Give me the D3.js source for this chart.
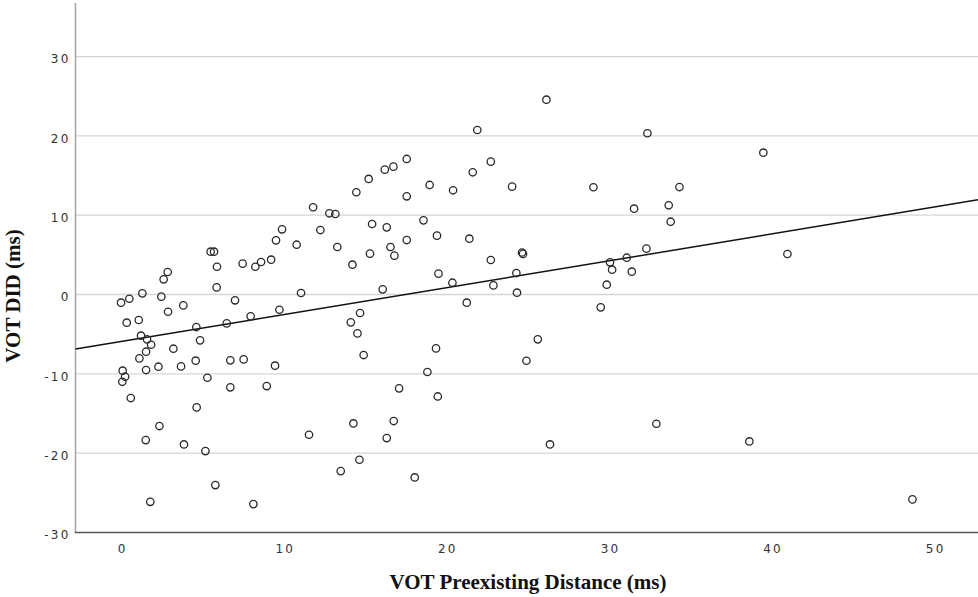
<!DOCTYPE html>
<html>
<head>
<meta charset="utf-8">
<script src="https://cdn.jsdelivr.net/npm/d3@7/dist/d3.min.js"></script>
<style>
  html, body { margin: 0; padding: 0; background: #fff; }
  svg { display: block; }
</style>
</head>
<body>
<svg id="chart" width="978" height="597"></svg>
<script>
// ---- data ----
const xValues = [
  0.00, 0.51, 1.31, 2.48, 2.62, 2.87, 2.89, 3.83, 0.35, 1.09,
  1.23, 1.60, 1.85, 1.54, 1.13, 0.10, 0.25, 0.08, 1.54, 2.30,
  3.22, 3.69, 4.63, 4.86, 4.59, 5.31, 5.51, 5.72, 5.90, 5.88,
  7.01, 6.50, 6.72, 7.54, 6.72, 7.48, 8.26, 8.61, 9.23, 7.97,
  9.74, 9.47, 8.96, 9.53, 9.90, 10.80, 11.07, 11.81, 12.26, 0.60,
  4.65, 2.36, 1.52, 3.87, 5.19, 5.80, 1.80, 8.14, 11.56,
  14.29, 16.77, 16.34, 14.66, 13.51, 18.06, 26.38,
  32.92, 38.64, 48.67,
  26.16, 21.91, 22.74, 21.63, 17.57, 16.75, 16.22, 15.23, 14.47, 17.57,
  18.98, 20.42, 24.05, 29.05, 12.81, 13.18, 15.44, 16.34, 18.60, 13.30,
  15.31, 16.57, 16.81, 17.57, 19.43, 21.42, 14.23, 16.09, 19.52, 20.38,
  22.74, 22.90, 24.31, 24.66, 24.72, 24.35, 21.26, 14.70, 14.13, 14.54,
  14.92, 19.37, 18.84, 17.10, 19.48, 25.63, 24.93, 30.07, 30.20, 29.87,
  29.50, 31.10,
  32.37, 39.50, 34.34, 31.55, 33.68, 33.80, 32.31, 40.98, 31.41
];
const yValues = [
  -1.03, -0.53, 0.15, -0.27, 1.91, 2.84, -2.17, -1.37, -3.55, -3.21,
  -5.19, -5.65, -6.33, -7.21, -8.05, -9.60, -10.36, -11.00, -9.52, -9.10,
  -6.83, -9.06, -4.10, -5.78, -8.34, -10.49, 5.40, 5.40, 3.50, 0.90,
  -0.73, -3.64, -8.30, -8.18, -11.70, 3.89, 3.50, 4.10, 4.39, -2.75,
  -1.92, -8.97, -11.54, 6.83, 8.22, 6.28, 0.19, 11.00, 8.13, -13.05,
  -14.23, -16.58, -18.35, -18.90, -19.74, -24.02, -26.13, -26.42, -17.68,
  -16.25, -15.95, -18.10, -20.83, -22.26, -23.06, -18.90,
  -16.29, -18.52, -25.83,
  24.56, 20.74, 16.75, 15.41, 17.09, 16.12, 15.74, 14.57, 12.89, 12.38,
  13.81, 13.14, 13.60, 13.52, 10.24, 10.15, 8.89, 8.47, 9.35, 5.99,
  5.15, 5.99, 4.90, 6.87, 7.42, 7.04, 3.76, 0.65, 2.63, 1.49,
  4.35, 1.15, 2.71, 5.30, 5.12, 0.23, -1.03, -2.33, -3.51, -4.90,
  -7.63, -6.79, -9.77, -11.83, -12.85, -5.65, -8.35, 4.06, 3.13, 1.24,
  -1.62, 4.64,
  20.33, 17.88, 13.55, 10.82, 11.25, 9.18, 5.78, 5.11, 2.88
];
const xTicks = [0, 10, 20, 30, 40, 50];
const yTicks = [30, 20, 10, 0, -10, -20, -30];
const fitIntercept = -5.93;   // fit line
const fitSlope = 0.339;
const xTitle = "VOT Preexisting Distance (ms)";
const yTitle = "VOT DID (ms)";

// ---- layout ----
const svg = d3.select("#chart");
const plotLeft = 75.5, plotRight = 978, plotTop = 3, plotBottom = 532.5;
const x = d3.scaleLinear().domain([-2.8, 52.7]).range([plotLeft, plotRight]);
const y = d3.scaleLinear().domain([-30, 36.75]).range([plotBottom, plotTop]);

// gridlines
svg.append("g").selectAll("line")
  .data(yTicks.filter(d => d !== -30))
  .join("line")
  .attr("x1", plotLeft).attr("x2", plotRight)
  .attr("y1", d => y(d)).attr("y2", d => y(d))
  .attr("stroke", "#d6d6d6").attr("stroke-width", 1.3);

// y axis
const yAxis = svg.append("g")
  .attr("transform", `translate(${plotLeft},0)`)
  .call(d3.axisLeft(y).tickValues(yTicks).tickSize(0).tickPadding(5).tickFormat(d3.format("d")));
yAxis.select(".domain").remove();
yAxis.selectAll("text")
  .attr("font-family", "DejaVu Sans").attr("font-size", 12)
  .attr("letter-spacing", "2.2px").attr("fill", "#333").attr("dy", "0.52em")
  .text(d => d < 0 ? "-" + Math.abs(d) : d);
svg.append("line")
  .attr("x1", plotLeft).attr("x2", plotLeft).attr("y1", plotTop).attr("y2", plotBottom)
  .attr("stroke", "#a8a8a8").attr("stroke-width", 1.6);

// x axis
const xAxis = svg.append("g")
  .attr("transform", `translate(0,${plotBottom})`)
  .call(d3.axisBottom(x).tickValues(xTicks).tickSize(0).tickPadding(12).tickFormat(d3.format("d")));
xAxis.select(".domain").remove();
xAxis.selectAll("text")
  .attr("font-family", "DejaVu Sans").attr("font-size", 12)
  .attr("letter-spacing", "2.2px").attr("fill", "#333").attr("dx", 1.1);
svg.append("line")
  .attr("x1", plotLeft - 0.8).attr("x2", plotRight).attr("y1", plotBottom).attr("y2", plotBottom)
  .attr("stroke", "#555").attr("stroke-width", 1.5);

// fit line
const xd = x.domain();
svg.append("line")
  .attr("x1", x(xd[0])).attr("y1", y(fitIntercept + fitSlope * xd[0]))
  .attr("x2", x(xd[1])).attr("y2", y(fitIntercept + fitSlope * xd[1]))
  .attr("stroke", "#111").attr("stroke-width", 1.5);

// points
svg.append("g").selectAll("circle")
  .data(xValues.map((v, i) => [v, yValues[i]]))
  .join("circle")
  .attr("cx", d => x(d[0])).attr("cy", d => y(d[1]))
  .attr("r", 3.7)
  .attr("fill", "none").attr("stroke", "#2a2a2a").attr("stroke-width", 1.3);

// titles
svg.append("text")
  .attr("x", 528).attr("y", 589)
  .attr("text-anchor", "middle")
  .attr("font-family", "Liberation Serif").attr("font-weight", "bold")
  .attr("font-size", 21).attr("fill", "#111")
  .text(xTitle);
svg.append("text")
  .attr("transform", "translate(20,296) rotate(-90)")
  .attr("text-anchor", "middle")
  .attr("font-family", "Liberation Serif").attr("font-weight", "bold")
  .attr("font-size", 21).attr("fill", "#111")
  .text(yTitle);
</script>
</body>
</html>
